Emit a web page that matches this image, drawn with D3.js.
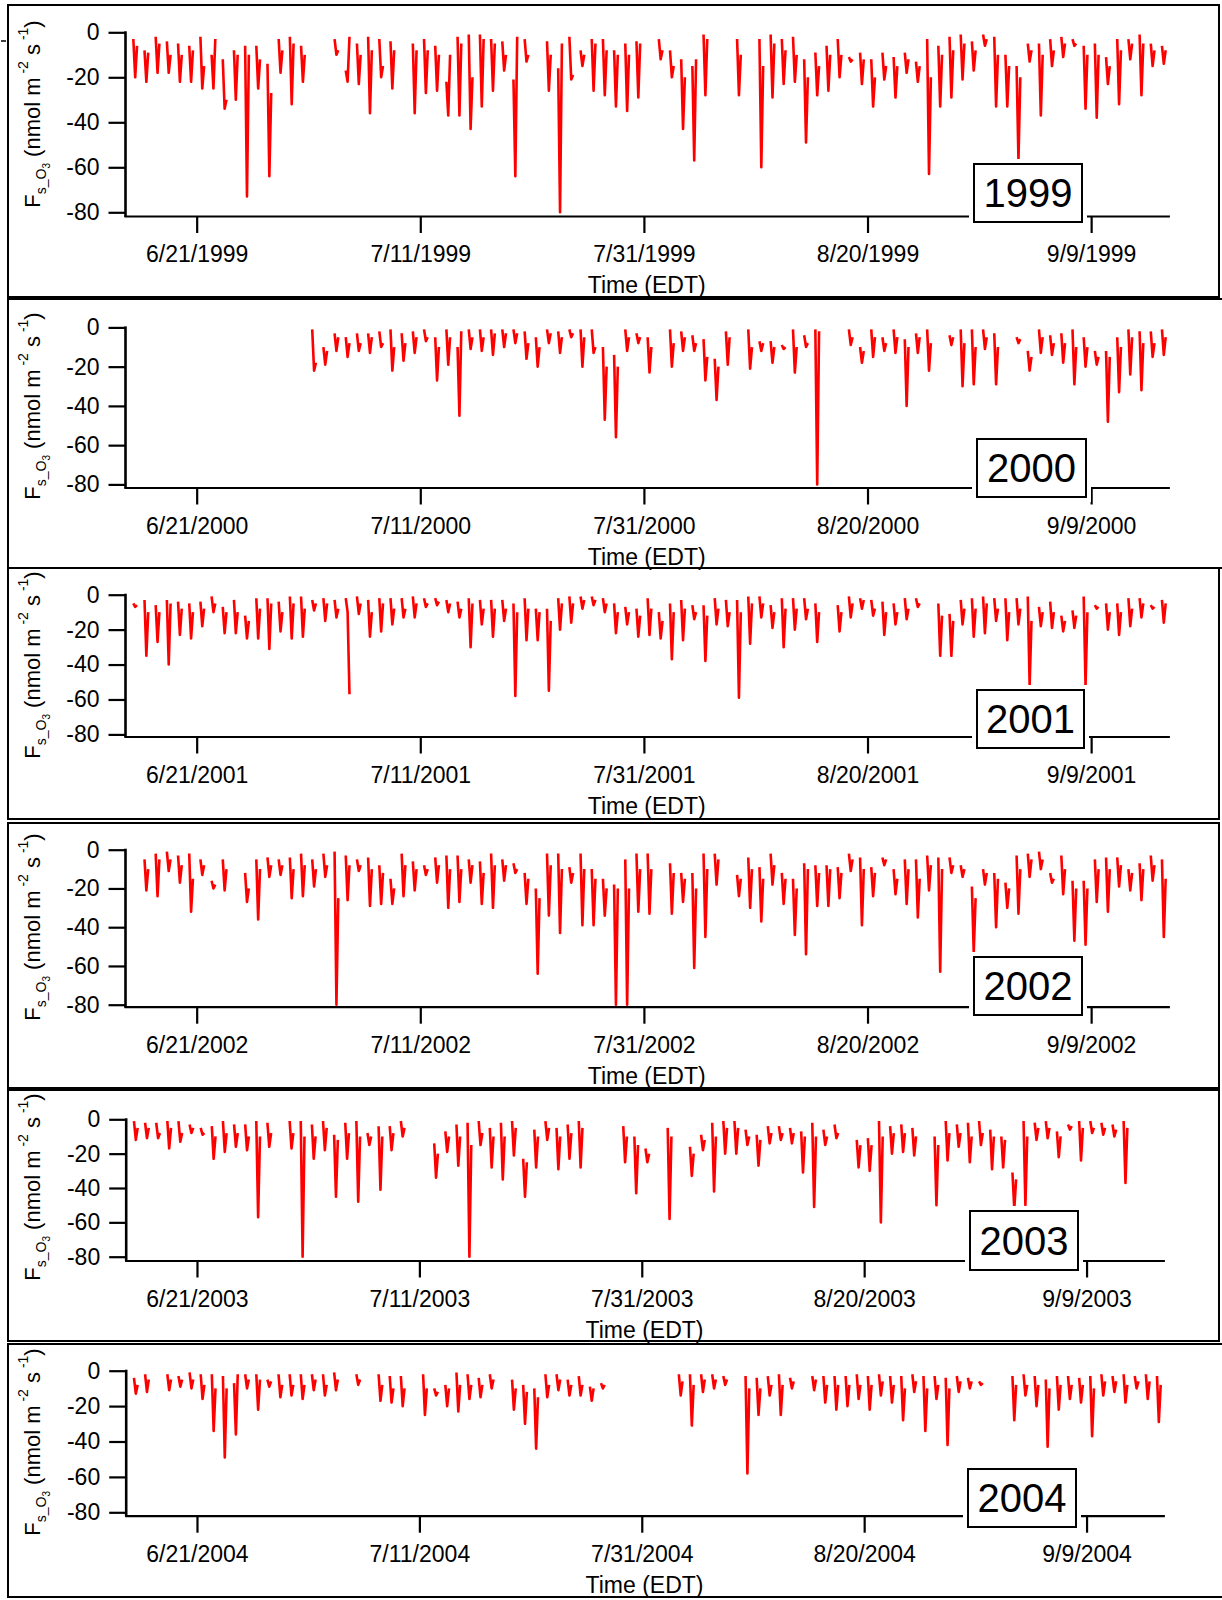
<!DOCTYPE html>
<html>
<head>
<meta charset="utf-8">
<script src="https://cdn.jsdelivr.net/npm/d3@7"></script>
<style>
  body { margin: 0; background: #fff; }
  svg { display: block; font-family: "Liberation Sans", Arial, sans-serif; }
</style>
</head>
<body>
<svg id="chart" width="1222" height="1600"></svg>
<script>
// ozone flux, one stroke per day: [morning, daily minimum, evening], null = no data
// day index 0 = June 14
var years = [1999, 2000, 2001, 2002, 2003, 2004];
var yTicks = [0, -20, -40, -60, -80];
var xTicks = [[6, 21], [7, 11], [7, 31], [8, 20], [9, 9]];
var sampleHours = [8, 12, 16];

var flux1999 = [
  null,[-3,-20,-6],[-8,-22,-9],[-2,-18,-5],[-4,-18,-10],[-5,-22,-10],[-6,-22,-8],[-2,-25,-15],[-10,-25,-3],[-12,-34,-30],
  [-8,-30,-10],[-6,-73,-10],[-6,-25,-12],[-14,-64,-27],[-3,-18,-8],[-2,-32,-5],[-6,-22,-10],null,null,[-3,-10,-8],
  [-17,-22,-2],[-5,-23,-10],[-2,-36,-8],[-3,-20,-15],[-4,-25,-8],null,[-5,-36,-8],[-3,-27,-8],[-6,-26,-10],[-22,-37,-10],
  [-2,-37,-5],[-1,-43,-20],[-1,-33,-3],[-3,-26,-5],[-4,-17,-10],[-21,-64,-2],[-3,-13,-10],null,[-4,-26,-10],[-16,-80,-5],
  [-2,-21,-19],[-8,-15,-10],[-3,-26,-5],[-3,-28,-8],[-8,-33,-10],[-5,-35,-10],[-4,-29,-5],null,[-3,-12,-8],[-8,-20,-15],
  [-12,-43,-20],[-15,-57,-12],[-1,-28,-3],null,null,[-3,-28,-10],null,[-3,-60,-15],[-1,-29,-5],[-3,-23,-8],
  [-2,-22,-10],[-12,-49,-20],[-9,-28,-15],[-6,-26,-10],[-3,-20,-10],[-11,-13,-12],[-9,-23,-12],[-12,-33,-20],[-9,-21,-15],[-11,-29,-15],
  [-9,-18,-12],[-13,-22,-15],[-3,-63,-20],[-6,-33,-10],[-2,-29,-8],[-1,-21,-5],[-4,-17,-8],[-1,-6,-3],[-2,-33,-10],[-10,-33,-15],
  [-15,-57,-20],[-5,-13,-8],[-5,-37,-10],[-3,-15,-8],[-2,-11,-5],[-3,-6,-5],[-6,-34,-10],[-5,-38,-10],[-11,-23,-15],[-3,-32,-8],
  [-3,-12,-5],[-1,-28,-5],[-5,-15,-8],[-6,-14,-8]
];

var flux2000 = [
  null,null,null,null,null,null,null,null,null,null,
  null,null,null,null,null,null,null,[-1,-22,-18],[-10,-19,-12],[-3,-12,-5],
  [-5,-15,-8],[-3,-12,-8],[-3,-13,-5],[-2,-10,-8],[-1,-22,-10],[-3,-17,-8],[-2,-13,-5],[-1,-7,-5],[-5,-27,-10],[-1,-19,-5],
  [-10,-45,-2],[-1,-11,-5],[-1,-12,-5],[-1,-14,-3],[-1,-10,-3],[-1,-8,-3],[-2,-16,-8],[-5,-20,-10],[-1,-8,-3],[-2,-13,-5],
  [-1,-5,-3],[-1,-20,-5],[-1,-13,-10],[-10,-47,-20],[-14,-56,-20],[-1,-12,-5],[-3,-8,-5],[-5,-23,-10],null,[-1,-20,-8],
  [-2,-12,-5],[-4,-12,-8],[-6,-27,-15],[-16,-37,-20],[-2,-19,-5],null,[-1,-21,-10],[-7,-12,-8],[-7,-18,-10],[-9,-11,-10],
  [-1,-23,-10],[-4,-10,-8],[-1,-80,-2],null,null,[-1,-9,-5],[-10,-18,-12],[-1,-15,-5],[-5,-12,-8],[-1,-13,-5],
  [-6,-40,-10],[-3,-13,-5],[-1,-22,-8],null,[-4,-9,-5],[-1,-30,-8],[-1,-29,-10],[-1,-11,-5],[-3,-29,-10],null,
  [-5,-8,-6],[-12,-22,-15],[-1,-13,-5],[-4,-14,-8],[-3,-18,-8],[-1,-29,-10],[-5,-20,-10],[-12,-19,-15],[-12,-48,-15],[-5,-33,-10],
  [-1,-24,-5],[-2,-32,-8],[-2,-15,-8],[-1,-14,-5]
];

var flux2001 = [
  null,[-5,-7,-6],[-3,-35,-10],[-6,-27,-10],[-3,-40,-5],[-4,-23,-8],[-5,-25,-10],[-4,-18,-8],[-1,-10,-5],[-7,-22,-10],
  [-3,-22,-10],[-12,-25,-15],[-2,-25,-8],[-2,-31,-5],[-4,-21,-10],[-1,-25,-5],[-1,-24,-8],[-3,-9,-5],[-2,-15,-5],[-3,-13,-8],
  [-2,-10,-57],[-1,-11,-5],[-3,-24,-10],[-2,-21,-5],[-2,-17,-8],[-2,-13,-8],[-1,-13,-5],[-2,-7,-5],[-2,-6,-4],[-3,-10,-5],
  [-4,-13,-8],[-2,-30,-5],[-3,-17,-8],[-3,-24,-8],[-3,-15,-8],[-5,-58,-10],[-2,-26,-8],[-8,-26,-10],[-8,-55,-15],[-2,-20,-5],
  [-1,-16,-5],[-1,-8,-3],[-1,-6,-3],[-2,-10,-5],[-5,-22,-10],[-7,-17,-10],[-8,-24,-12],[-2,-23,-8],[-10,-25,-15],[-5,-37,-10],
  [-3,-26,-8],[-6,-14,-10],[-6,-38,-12],[-2,-17,-8],[-3,-18,-10],[-3,-59,-10],[-1,-28,-5],[-1,-13,-5],[-6,-19,-10],[-2,-30,-8],
  [-2,-20,-8],[-2,-14,-8],[-5,-27,-10],null,[-6,-21,-10],[-1,-13,-5],[-2,-8,-3],[-3,-12,-8],[-4,-23,-10],[-5,-17,-10],
  [-2,-14,-8],[-2,-7,-5],null,[-5,-35,-12],[-11,-35,-15],[-3,-17,-8],[-2,-24,-8],[-1,-22,-5],[-2,-15,-8],[-2,-26,-10],
  [-2,-17,-8],[-1,-52,-15],[-7,-18,-10],[-4,-19,-10],[-12,-21,-15],[-9,-19,-12],[-1,-52,-10],[-6,-8,-7],[-5,-20,-10],[-5,-23,-10],
  [-2,-18,-8],[-2,-13,-5],[-6,-8,-7],[-3,-16,-5]
];

var flux2002 = [
  null,null,[-5,-21,-10],[-2,-24,-5],[-1,-11,-5],[-3,-17,-8],[-2,-32,-15],[-5,-13,-8],[-16,-20,-18],[-5,-21,-10],
  null,[-12,-27,-20],[-5,-36,-10],[-4,-14,-8],[-5,-13,-8],[-4,-25,-10],[-2,-24,-8],[-5,-19,-10],[-2,-14,-8],[-1,-80,-25],
  [-3,-26,-8],[-5,-11,-8],[-4,-29,-10],[-8,-28,-12],[-15,-28,-20],[-2,-24,-8],[-6,-21,-10],[-8,-13,-10],[-4,-17,-8],[-3,-30,-10],
  [-3,-27,-10],[-5,-17,-8],[-6,-28,-12],[-2,-30,-8],[-5,-16,-8],[-7,-12,-10],[-12,-28,-15],[-20,-64,-25],[-2,-34,-8],[-2,-43,-10],
  [-9,-17,-12],[-2,-39,-10],[-10,-39,-15],[-15,-34,-20],[-18,-80,-20],[-5,-80,-20],[-2,-32,-10],[-2,-33,-10],null,[-7,-33,-12],
  [-12,-27,-15],[-12,-61,-20],[-2,-45,-10],[-2,-18,-5],null,[-13,-24,-15],[-4,-30,-10],[-9,-37,-15],[-2,-18,-8],[-12,-28,-15],
  [-15,-44,-20],[-7,-54,-10],[-8,-29,-12],[-8,-29,-10],[-9,-25,-12],[-2,-11,-5],[-4,-39,-10],[-9,-24,-12],[-4,-8,-5],[-10,-23,-15],
  [-5,-28,-10],[-5,-35,-15],[-3,-21,-8],[-4,-63,-10],[-4,-12,-8],[-8,-14,-10],[-19,-53,-25],[-10,-18,-12],[-12,-40,-15],[-17,-30,-20],
  [-3,-33,-10],[-2,-14,-5],[-1,-10,-5],[-12,-17,-15],[-3,-23,-10],[-16,-47,-20],[-16,-49,-20],[-5,-27,-10],[-4,-32,-10],[-4,-19,-8],
  [-10,-21,-12],[-7,-26,-10],[-3,-16,-8],[-5,-45,-15]
];

var flux2003 = [
  null,[-1,-12,-5],[-2,-11,-5],[-2,-11,-8],[-1,-17,-5],[-1,-13,-8],[-3,-8,-5],[-5,-9,-8],[-4,-23,-10],[-1,-19,-8],
  [-3,-16,-8],[-3,-18,-10],[-1,-57,-10],[-2,-16,-8],null,[-1,-17,-8],[-1,-80,-10],[-3,-23,-10],[-1,-18,-5],[-9,-45,-12],
  [-2,-23,-8],[-1,-48,-10],[-8,-15,-10],[-4,-41,-10],[-4,-18,-8],[-1,-10,-5],null,null,[-14,-34,-20],[-7,-19,-10],
  [-3,-27,-10],[-2,-80,-15],[-1,-15,-8],[-5,-28,-10],[-2,-35,-10],[-1,-21,-5],[-23,-45,-25],[-6,-28,-10],[-1,-12,-5],[-5,-29,-10],
  [-3,-23,-8],[-1,-28,-5],null,null,null,[-4,-25,-10],[-10,-43,-15],[-17,-25,-20],null,[-5,-58,-10],
  null,[-16,-33,-20],[-9,-18,-12],[-2,-42,-10],[-1,-20,-5],[-1,-20,-5],[-6,-15,-10],[-9,-27,-12],[-4,-14,-8],[-4,-12,-8],
  [-5,-14,-8],[-7,-31,-10],[-2,-51,-10],[-6,-15,-10],[-3,-11,-8],null,[-12,-28,-15],[-11,-30,-15],[-1,-60,-10],[-4,-20,-8],
  [-3,-19,-8],[-5,-21,-10],null,[-10,-50,-15],[-1,-24,-8],[-3,-16,-8],[-2,-25,-10],[-1,-15,-8],[-6,-29,-10],[-10,-28,-12],
  [-31,-52,-35],[-1,-50,-10],[-2,-12,-5],[-1,-11,-5],[-7,-22,-10],[-3,-6,-4],[-1,-24,-5],[-1,-8,-5],[-2,-9,-5],[-3,-10,-6],
  [-1,-37,-5],null,null,null
];

var flux2004 = [
  null,[-4,-13,-8],[-2,-12,-5],null,[-2,-11,-5],[-3,-9,-5],[-1,-10,-5],[-2,-16,-8],[-2,-34,-10],[-3,-49,-10],
  [-7,-36,-2],[-2,-10,-5],[-2,-22,-5],[-5,-9,-6],[-2,-15,-8],[-2,-14,-8],[-2,-16,-8],[-2,-11,-5],[-2,-14,-8],[-1,-11,-5],
  null,[-2,-8,-5],null,[-2,-17,-8],[-3,-18,-10],[-3,-20,-10],null,[-2,-25,-10],[-10,-14,-12],[-8,-20,-10],
  [-1,-23,-8],[-2,-16,-8],[-4,-15,-8],[-2,-10,-5],null,[-5,-22,-10],[-8,-30,-12],[-10,-44,-15],[-2,-15,-8],[-2,-11,-5],
  [-5,-14,-8],[-3,-14,-8],[-9,-17,-10],[-7,-10,-8],null,null,null,null,null,null,
  [-2,-14,-6],[-2,-31,-8],[-2,-12,-5],[-2,-10,-5],[-3,-8,-5],null,[-3,-58,-10],[-4,-25,-10],[-3,-14,-8],[-2,-25,-8],
  [-4,-10,-6],null,[-3,-11,-5],[-3,-18,-8],[-3,-22,-8],[-3,-20,-8],[-2,-16,-8],[-3,-22,-8],[-2,-14,-6],[-3,-18,-8],
  [-3,-28,-10],[-2,-12,-6],[-3,-34,-10],[-3,-16,-8],[-4,-42,-10],[-3,-12,-6],[-4,-10,-6],[-6,-8,-7],null,null,
  [-3,-28,-8],[-2,-14,-8],[-3,-20,-8],[-5,-43,-10],[-3,-22,-8],[-3,-16,-8],[-4,-18,-8],[-3,-37,-10],[-2,-14,-6],[-3,-12,-6],
  [-2,-18,-8],[-3,-10,-6],[-2,-16,-6],[-3,-29,-8]
];

var fluxByYear = [flux1999, flux2000, flux2001, flux2002, flux2003, flux2004];

// page layout of the six stacked panels
var panels = [
  { top: 5,    bottom: 297,  right: 1219, y0: 32.3,   y80: 212.3,  axisY: 216,    x0: 124,   x1: 1169.4, box: [974, 164, 108, 58], titleY: 114 },
  { top: 299,  bottom: 568,  right: 1226, y0: 327.4,  y80: 484.4,  axisY: 487.5,  x0: 124,   x1: 1169.4, box: [977, 439, 109, 58], titleY: 406 },
  { top: 568,  bottom: 819,  right: 1219, y0: 594.7,  y80: 734.4,  axisY: 736.5,  x0: 124,   x1: 1169.4, box: [977, 690, 107, 58], titleY: 665 },
  { top: 823,  bottom: 1088, right: 1219, y0: 849.7,  y80: 1004.7, axisY: 1006.7, x0: 124,   x1: 1169.4, box: [974, 957, 108, 58], titleY: 927 },
  { top: 1090, bottom: 1341, right: 1219, y0: 1119.3, y80: 1256.7, axisY: 1260.5, x0: 124.7, x1: 1164.4, box: [970, 1211, 108, 59], titleY: 1187 },
  { top: 1344, bottom: 1597, right: 1226, y0: 1370.7, y80: 1512.3, axisY: 1515.7, x0: 124.7, x1: 1164.4, box: [968, 1469, 108, 58], titleY: 1442 }
];

var svg = d3.select("#chart");
var fmt = d3.timeFormat("%-m/%-d/%Y");

// small stray mark at the top left of the original
svg.append("line").attr("x1", 1).attr("x2", 6).attr("y1", 41).attr("y2", 41)
  .attr("stroke", "#000").attr("stroke-width", 1.5);

years.forEach(function(year, i) {
  var p = panels[i];
  var g = svg.append("g");

  g.append("rect")
    .attr("x", 8).attr("y", p.top)
    .attr("width", p.right - 8).attr("height", p.bottom - p.top)
    .attr("fill", "none").attr("stroke", "#000").attr("stroke-width", 2);

  var x = d3.scaleTime()
    .domain([new Date(year, 5, 14, 12), new Date(year, 8, 16, 0)])
    .range([p.x0, p.x1]);
  var y = d3.scaleLinear().domain([-80, 0]).range([p.y80, p.y0]);

  var pts = [];
  fluxByYear[i].forEach(function(day, k) {
    if (!day) return;
    day.forEach(function(v, j) {
      pts.push({ t: new Date(year, 5, 14 + k, sampleHours[j]), v: v });
    });
    pts.push({ t: null, v: null });
  });

  var line = d3.line()
    .defined(function(d) { return d.v !== null; })
    .x(function(d) { return x(d.t); })
    .y(function(d) { return y(d.v); });

  g.append("path")
    .datum(pts)
    .attr("d", line)
    .attr("fill", "none")
    .attr("stroke", "#ff0000")
    .attr("stroke-width", 2.6)
    .attr("stroke-linejoin", "round");

  // x axis
  var xa = g.append("g")
    .attr("transform", "translate(0," + p.axisY + ")")
    .call(d3.axisBottom(x)
      .tickValues(xTicks.map(function(t) { return new Date(year, t[0] - 1, t[1]); }))
      .tickFormat(fmt)
      .tickSize(17).tickSizeOuter(0).tickPadding(13));
  xa.select(".domain").attr("stroke-width", 2.2);
  xa.selectAll(".tick line").attr("stroke-width", 2.2);
  xa.selectAll("text").style("font-size", "23px").attr("fill", "#000");

  // y axis
  var ya = g.append("g")
    .attr("transform", "translate(" + (p.x0 + 1.5) + ",0)")
    .call(d3.axisLeft(y)
      .tickValues(yTicks)
      .tickFormat(function(d) { return String(d); })
      .tickSize(17).tickSizeOuter(0).tickPadding(9));
  ya.select(".domain").remove();
  ya.selectAll(".tick line").attr("stroke-width", 2.2);
  ya.selectAll("text").style("font-size", "23px").attr("fill", "#000");
  g.append("line")
    .attr("x1", p.x0 + 1.5).attr("x2", p.x0 + 1.5)
    .attr("y1", p.y0 - 1).attr("y2", p.axisY + 1)
    .attr("stroke", "#000").attr("stroke-width", 2.6);

  g.append("text")
    .attr("x", (p.x0 + p.x1) / 2)
    .attr("y", p.axisY + 77)
    .attr("text-anchor", "middle")
    .style("font-size", "23px")
    .text("Time (EDT)");

  // y axis title
  var title = g.append("text")
    .attr("transform", "translate(40," + p.titleY + ") rotate(-90)")
    .attr("text-anchor", "middle")
    .style("font-size", "22px");
  title.append("tspan").text("F");
  title.append("tspan").attr("dy", 6).style("font-size", "14px").text("s_O");
  title.append("tspan").attr("dy", 4).style("font-size", "10px").text("3");
  title.append("tspan").attr("dy", -10).text(" (nmol m");
  title.append("tspan").attr("dy", -12).style("font-size", "14px").text(" -2");
  title.append("tspan").attr("dy", 12).text(" s");
  title.append("tspan").attr("dy", -12).style("font-size", "14px").text(" -1");
  title.append("tspan").attr("dy", 12).text(")");

  // year label box, cut into the x axis
  var b = p.box;
  g.append("rect")
    .attr("x", b[0] - 5).attr("y", b[1] - 5)
    .attr("width", b[2] + 10).attr("height", b[3] + 10)
    .attr("fill", "#fff");
  g.append("rect")
    .attr("x", b[0]).attr("y", b[1])
    .attr("width", b[2]).attr("height", b[3])
    .attr("fill", "#fff").attr("stroke", "#000").attr("stroke-width", 2);
  g.append("text")
    .attr("x", b[0] + b[2] / 2)
    .attr("y", b[1] + b[3] / 2 + 14)
    .attr("text-anchor", "middle")
    .style("font-size", "40px")
    .text(year);
});
</script>
</body>
</html>
